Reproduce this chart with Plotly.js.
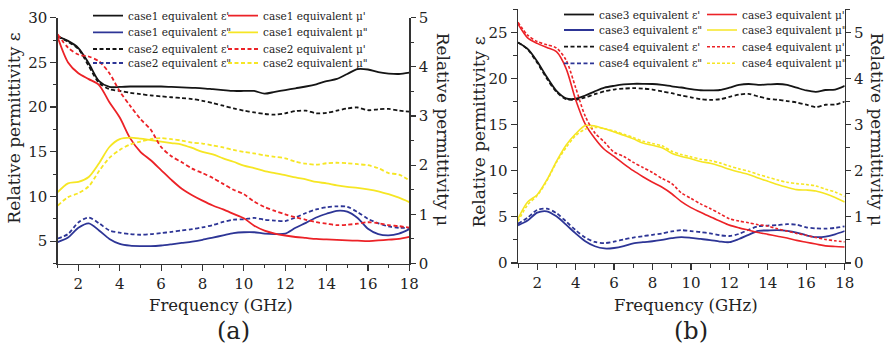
<!DOCTYPE html>
<html>
<head>
<meta charset="utf-8">
<script src="https://cdn.plot.ly/plotly-3.0.1.min.js"></script>
<style>html,body{margin:0;padding:0;background:#fff}#chart{width:888px;height:348px}</style>
</head>
<body>
<div id="chart"></div>
<script>
const freq = [1,1.5,2,2.5,3,3.5,4,4.5,5,5.5,6,6.5,7,7.5,8,8.5,9,9.5,10,10.5,11,11.5,12,12.5,13,13.5,14,14.5,15,15.5,16,16.5,17,17.5,18];

// panel (a)
const case1EpsReal = [27.9,27.4,26.6,24.9,22.9,22.25,22.25,22.3,22.3,22.3,22.3,22.25,22.2,22.15,22.1,22.0,21.9,21.8,21.8,21.8,21.5,21.7,21.9,22.1,22.3,22.55,22.9,23.15,23.7,24.25,24.2,23.9,23.75,23.7,23.85];
const case2EpsReal = [27.9,27.3,26.5,24.6,22.7,22.0,21.8,21.6,21.45,21.3,21.2,21.1,21.0,20.9,20.7,20.45,20.15,19.85,19.6,19.4,19.23,19.15,19.3,19.55,19.6,19.3,19.35,19.6,19.85,19.95,19.65,19.75,19.8,19.6,19.5];
const case1EpsImag = [4.9,5.4,6.5,7.0,6.2,5.25,4.7,4.5,4.45,4.45,4.52,4.65,4.8,4.95,5.15,5.4,5.65,5.9,6.0,6.0,5.85,5.8,5.85,6.5,7.05,7.65,8.07,8.4,8.3,7.6,6.4,5.8,5.65,5.85,6.35];
const case2EpsImag = [5.3,5.8,7.1,7.65,7.0,6.2,5.95,5.8,5.72,5.78,5.9,6.05,6.2,6.35,6.55,6.8,7.15,7.4,7.45,7.6,7.4,7.3,7.25,7.65,8.15,8.55,8.8,8.9,8.85,8.25,7.5,7.0,6.65,6.5,6.5];
const case1MuReal = [4.60,4.09,3.87,3.75,3.63,3.28,2.97,2.55,2.27,2.1,1.9,1.7,1.52,1.39,1.28,1.18,1.10,1.01,0.92,0.77,0.67,0.61,0.57,0.54,0.52,0.50,0.49,0.48,0.47,0.465,0.455,0.47,0.485,0.50,0.54];
const case2MuReal = [4.66,4.39,4.25,4.21,4.11,3.87,3.5,3.21,2.94,2.72,2.37,2.18,2.06,1.93,1.84,1.74,1.62,1.50,1.41,1.26,1.15,1.07,1.0,0.94,0.89,0.84,0.81,0.78,0.79,0.81,0.84,0.82,0.78,0.76,0.73];
const case1MuImag = [1.45,1.63,1.66,1.76,2.04,2.37,2.53,2.56,2.54,2.51,2.48,2.45,2.42,2.35,2.27,2.22,2.14,2.07,1.99,1.94,1.88,1.84,1.80,1.75,1.71,1.66,1.63,1.59,1.56,1.54,1.51,1.47,1.41,1.34,1.25];
const case2MuImag = [1.18,1.35,1.43,1.57,1.88,2.15,2.31,2.42,2.48,2.53,2.55,2.53,2.50,2.46,2.44,2.40,2.36,2.31,2.27,2.24,2.20,2.17,2.14,2.07,2.03,2.01,2.04,2.05,2.04,2.02,2.0,1.94,1.84,1.81,1.69];

// panel (b)
const case3EpsReal = [23.9,23.2,21.85,20.15,18.65,17.85,17.8,18.15,18.6,19.0,19.2,19.35,19.42,19.42,19.4,19.3,19.15,19.02,18.85,18.72,18.7,18.75,19.0,19.3,19.4,19.3,19.35,19.4,19.3,19.0,18.7,18.55,18.75,18.8,19.2];
const case4EpsReal = [23.9,23.15,21.7,20.0,18.55,17.75,17.7,17.95,18.3,18.6,18.8,18.9,18.95,18.9,18.8,18.6,18.4,18.15,17.95,17.75,17.68,17.75,18.0,18.25,18.33,18.05,17.8,17.7,17.55,17.4,17.15,16.9,17.15,17.17,17.5];
const case3EpsImag = [4.08,4.6,5.45,5.6,5.05,4.15,3.2,2.35,1.81,1.57,1.62,1.82,2.12,2.25,2.35,2.5,2.68,2.8,2.72,2.6,2.48,2.32,2.25,2.6,3.05,3.48,3.52,3.55,3.48,3.3,3.0,2.8,2.85,3.1,3.46];
const case4EpsImag = [4.26,4.9,5.75,5.88,5.4,4.5,3.55,2.75,2.28,2.15,2.3,2.55,2.75,2.9,3.05,3.2,3.42,3.55,3.45,3.35,3.2,3.0,2.92,3.15,3.6,3.98,4.05,4.1,4.2,4.15,3.85,3.75,3.72,3.8,3.97];
const case3MuReal = [5.18,4.88,4.76,4.67,4.58,4.22,3.54,3.01,2.7,2.46,2.31,2.15,2.0,1.87,1.75,1.64,1.5,1.33,1.2,1.1,1.0,0.91,0.82,0.76,0.71,0.66,0.62,0.58,0.54,0.49,0.45,0.41,0.37,0.356,0.346];
const case4MuReal = [5.22,4.94,4.8,4.73,4.66,4.4,3.8,3.18,2.82,2.62,2.4,2.31,2.18,2.07,1.96,1.83,1.72,1.52,1.4,1.28,1.18,1.07,0.96,0.91,0.87,0.83,0.80,0.74,0.69,0.64,0.60,0.55,0.51,0.48,0.456];
const case3MuImag = [0.96,1.32,1.48,1.80,2.2,2.55,2.8,2.98,2.97,2.91,2.84,2.77,2.69,2.60,2.55,2.50,2.38,2.31,2.26,2.20,2.16,2.10,2.03,1.97,1.92,1.84,1.77,1.70,1.64,1.59,1.58,1.56,1.50,1.42,1.32];
const case4MuImag = [0.90,1.26,1.46,1.78,2.18,2.5,2.76,2.9,2.94,2.91,2.86,2.79,2.72,2.64,2.59,2.54,2.42,2.35,2.30,2.25,2.22,2.17,2.10,2.04,1.99,1.92,1.86,1.80,1.75,1.72,1.70,1.67,1.60,1.54,1.44];

const BLACK = '#151515', BLUE = '#2d3596', RED = '#ec2227', YELLOW = '#f6e624';
const DASH = '4px,2.5px';
const W = 888, H = 348;
const FONT = 'DejaVu Serif';

function tr(y, name, color, dash, xa, ya, leg, width, lw) {
  const t = {x: freq, y: y, name: name, type: 'scatter', mode: 'lines',
    line: {color: color, width: width || 1.8, dash: dash, shape: 'spline', smoothing: 0.8},
    xaxis: xa, yaxis: ya, legend: leg, hoverinfo: 'skip'};
  if (lw) t.legendwidth = lw;
  return t;
}

const traces = [
  tr(case1EpsReal, "case1 equivalent ε'", BLACK, 'solid', 'x', 'y', 'legend'),
  tr(case1MuReal, "case1 equivalent μ'", RED, 'solid', 'x', 'y2', 'legend', 1.8, 125),
  tr(case1EpsImag, 'case1 equivalent ε"', BLUE, 'solid', 'x', 'y', 'legend2'),
  tr(case1MuImag, 'case1 equivalent μ"', YELLOW, 'solid', 'x', 'y2', 'legend2', 1.8, 125),
  tr(case2EpsReal, "case2 equivalent ε'", BLACK, DASH, 'x', 'y', 'legend3'),
  tr(case2MuReal, "case2 equivalent μ'", RED, DASH, 'x', 'y2', 'legend3', 1.8, 125),
  tr(case2EpsImag, 'case2 equivalent ε"', BLUE, DASH, 'x', 'y', 'legend4'),
  tr(case2MuImag, 'case2 equivalent μ"', YELLOW, DASH, 'x', 'y2', 'legend4', 1.8, 125),

  tr(case3EpsReal, "case3 equivalent ε'", BLACK, 'solid', 'x2', 'y3', 'legend5'),
  tr(case3MuReal, "case3 equivalent μ'", RED, 'solid', 'x2', 'y4', 'legend5', 1.6, 125),
  tr(case3EpsImag, 'case3 equivalent ε"', BLUE, 'solid', 'x2', 'y3', 'legend6'),
  tr(case3MuImag, 'case3 equivalent μ"', YELLOW, 'solid', 'x2', 'y4', 'legend6', 1.6, 125),
  tr(case4EpsReal, "case4 equivalent ε'", BLACK, DASH, 'x2', 'y3', 'legend7'),
  tr(case4MuReal, "case4 equivalent μ'", RED, '3px,2px', 'x2', 'y4', 'legend7', 1.6, 125),
  tr(case4EpsImag, 'case4 equivalent ε"', BLUE, DASH, 'x2', 'y3', 'legend8'),
  tr(case4MuImag, 'case4 equivalent μ"', YELLOW, '3px,2px', 'x2', 'y4', 'legend8', 1.6, 125)
];

function axisBase() {
  return {showline: true, linecolor: '#333', linewidth: 1.4, ticks: 'outside', ticklen: 6, tickwidth: 1.2,
    tickcolor: '#333', showgrid: false, zeroline: false, fixedrange: true,
    tickfont: {family: FONT, size: 15, color: '#222'}};
}
function xAxis(domain, anchor) {
  return Object.assign(axisBase(), {domain: domain, range: [1, 18], anchor: anchor, tick0: 0, dtick: 2,
    minor: {dtick: 1, ticks: 'outside', ticklen: 3.5, tickwidth: 1, tickcolor: '#333'}});
}
function yAxis(domain, anchor, range, dtick, minor, extra) {
  return Object.assign(axisBase(), {domain: domain, range: range, anchor: anchor, tick0: 0, dtick: dtick,
    minor: {dtick: minor, ticks: 'outside', ticklen: 3.5, tickwidth: 1, tickcolor: '#333'}}, extra || {});
}

function legendRow(textX, rowY, entry) {
  return {orientation: 'h', x: (textX - 40) / W, y: 1 - rowY / H, xanchor: 'left', yanchor: 'middle',
    bgcolor: 'rgba(0,0,0,0)', borderwidth: 0, entrywidth: entry, entrywidthmode: 'pixels',
    font: {family: FONT, size: 10.5, color: '#222'}, itemclick: false, itemdoubleclick: false};
}

const aRows = [15.7, 32.3, 49, 63];
const bRows = [13.3, 30, 46.7, 63.3];

function ann(text, px, py, size, angle) {
  return {text: text, x: px / W, y: 1 - py / H, xref: 'paper', yref: 'paper', showarrow: false,
    xanchor: 'center', yanchor: 'middle', textangle: angle || 0,
    font: {family: FONT, size: size, color: '#222'}};
}

const layout = {
  width: W, height: H, margin: {l: 0, r: 0, t: 0, b: 0},
  font: {family: FONT},
  paper_bgcolor: '#fff', plot_bgcolor: 'rgba(0,0,0,0)', showlegend: true,
  xaxis: xAxis([57.7 / W, 409.3 / W], 'y'),
  yaxis: yAxis([1 - 263.3 / H, 1 - 16.7 / H], 'x', [2.5, 30], 5, 2.5),
  yaxis2: yAxis([1 - 263.3 / H, 1 - 16.7 / H], 'x', [0, 5], 1, 0.5, {overlaying: 'y', side: 'right', ticklen: 5}),
  xaxis2: xAxis([518 / W, 844.7 / W], 'y3'),
  yaxis3: yAxis([1 - 262.7 / H, 1 - 8.3 / H], 'x2', [0, 27.5], 5, 2.5),
  yaxis4: yAxis([1 - 262.7 / H, 1 - 8.3 / H], 'x2', [0, 5.5], 1, 0.5, {overlaying: 'y3', side: 'right', ticklen: 5}),
  legend: legendRow(128, aRows[0], 90),
  legend2: legendRow(128, aRows[1], 90),
  legend3: legendRow(128, aRows[2], 90),
  legend4: legendRow(128, aRows[3], 90),
  legend5: legendRow(599, bRows[0], 98),
  legend6: legendRow(599, bRows[1], 98),
  legend7: legendRow(599, bRows[2], 98),
  legend8: legendRow(599, bRows[3], 98),
  annotations: [
    ann('Relative permittivity ε', 14, 128, 17, -90),
    ann('Relative permittivity μ', 443, 128, 17, 90),
    ann('Frequency (GHz)', 221, 305, 16.5),
    ann('(a)', 233, 331, 24),
    ann('Relative permittivity ε', 479, 132, 17, -90),
    ann('Relative permittivity μ', 877, 128, 17, 90),
    ann('Frequency (GHz)', 686, 305, 16.5),
    ann('(b)', 691, 331, 24)
  ]
};

Plotly.newPlot('chart', traces, layout, {staticPlot: true, displayModeBar: false});
</script>
</body>
</html>
